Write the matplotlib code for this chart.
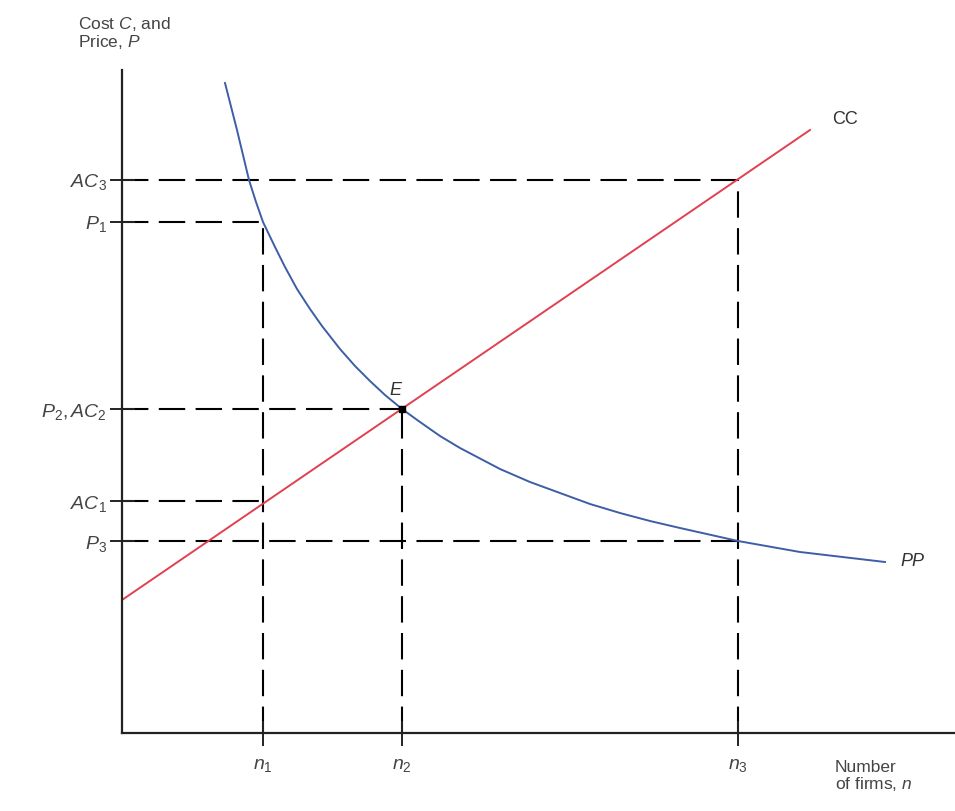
import matplotlib
matplotlib.use("Agg")
import matplotlib.pyplot as plt

plt.rcParams['font.family'] = ['Liberation Sans Narrow', 'Liberation Sans', 'DejaVu Sans']
plt.rcParams['mathtext.fontset'] = 'custom'
plt.rcParams['mathtext.it'] = 'Liberation Sans:italic'
plt.rcParams['mathtext.rm'] = 'Liberation Sans'
plt.rcParams['lines.scale_dashes'] = False

# number of firms at the three marked points
n_vals = [1.41, 2.80, 6.16]
n_labels = [r'$n_1$', r'$n_2$', r'$n_3$']

# cost / price levels on the vertical axis
y_vals = [5.53, 5.11, 3.24, 2.32, 1.92]
y_labels = [r'$AC_3$', r'$P_1$', r'$P_2, AC_2$', r'$AC_1$', r'$P_3$']
y_reach = [6.16, 1.41, 2.80, 1.41, 6.16]  # how far each dashed guide goes right

# CC line (average cost rises with number of firms)
cc_x = [0.0, 6.88]
cc_y = [1.33, 6.03]

# PP curve (price falls with number of firms)
pp_x = [1.03, 1.15, 1.27, 1.34, 1.41, 1.53, 1.63, 1.75, 1.88, 2.00,
        2.18, 2.33, 2.48, 2.63, 2.80, 2.98, 3.18, 3.38, 3.78, 4.08,
        4.38, 4.68, 4.98, 5.28, 5.58, 6.16, 6.78, 7.63]
pp_y = [6.50, 6.03, 5.53, 5.31, 5.11, 4.86, 4.66, 4.44, 4.24, 4.07,
        3.84, 3.67, 3.52, 3.38, 3.24, 3.11, 2.97, 2.85, 2.64, 2.51,
        2.40, 2.29, 2.20, 2.12, 2.05, 1.92, 1.81, 1.71]

# equilibrium point E
e_x, e_y = 2.80, 3.24

fig = plt.figure(figsize=(9.55, 8.11), dpi=100)
ax = fig.add_axes([122 / 955, 78 / 811, 833 / 955, 663 / 811])
ax.set_xlim(0, 8.33)
ax.set_ylim(0, 6.63)

dash = (0, (19, 7.5))

# horizontal dashed guides
for yv, xr in zip(y_vals, y_reach):
    ax.plot([0, xr], [yv, yv], color='black', lw=1.5, linestyle=dash, zorder=1)

# vertical dashed guides up to the highest level reached at each n
for nv in n_vals:
    top = max(yv for yv, xr in zip(y_vals, y_reach) if abs(xr - nv) < 1e-9)
    ax.plot([nv, nv], [0, top], color='black', lw=1.5, linestyle=dash, zorder=1)

ax.plot(cc_x, cc_y, color='#e0404f', lw=1.4, zorder=2)
ax.plot(pp_x, pp_y, color='#3d5ea6', lw=1.4, zorder=2, solid_joinstyle='round')

ax.plot([e_x], [e_y], marker='s', color='black', ms=5, zorder=3)
ax.text(e_x - 0.07, e_y + 0.1, 'E', style='italic', fontsize=13,
        ha='center', va='bottom', color='#333333')

ax.text(cc_x[1] + 0.35, cc_y[1] + 0.11, 'CC', fontsize=13, ha='center',
        va='center', color='#333333')
ax.text(pp_x[-1] + 0.27, pp_y[-1], 'PP', style='italic', fontsize=13,
        ha='center', va='center', color='#333333')

# axes styling
for side in ['top', 'right']:
    ax.spines[side].set_visible(False)
for side in ['left', 'bottom']:
    ax.spines[side].set_linewidth(1.6)
    ax.spines[side].set_color('#222222')

ax.set_xticks(n_vals)
ax.set_xticklabels(n_labels)
ax.set_yticks(y_vals)
ax.set_yticklabels(y_labels)
ax.tick_params(axis='both', direction='inout', length=18, width=1.4,
               colors='#222222', labelsize=14, labelcolor='#444444')
ax.tick_params(axis='x', pad=8)
ax.tick_params(axis='y', pad=2)

fig.text(78 / 955, 1 - 15 / 811, 'Cost $C$, and\nPrice, $P$', fontsize=12.5,
         ha='left', va='top', color='#444444', linespacing=1.0)
fig.text(835 / 955, 1 - 760 / 811, 'Number\nof firms, $n$', fontsize=12.5,
         ha='left', va='top', color='#444444', linespacing=1.0)

fig.savefig('out.png', dpi=100)
